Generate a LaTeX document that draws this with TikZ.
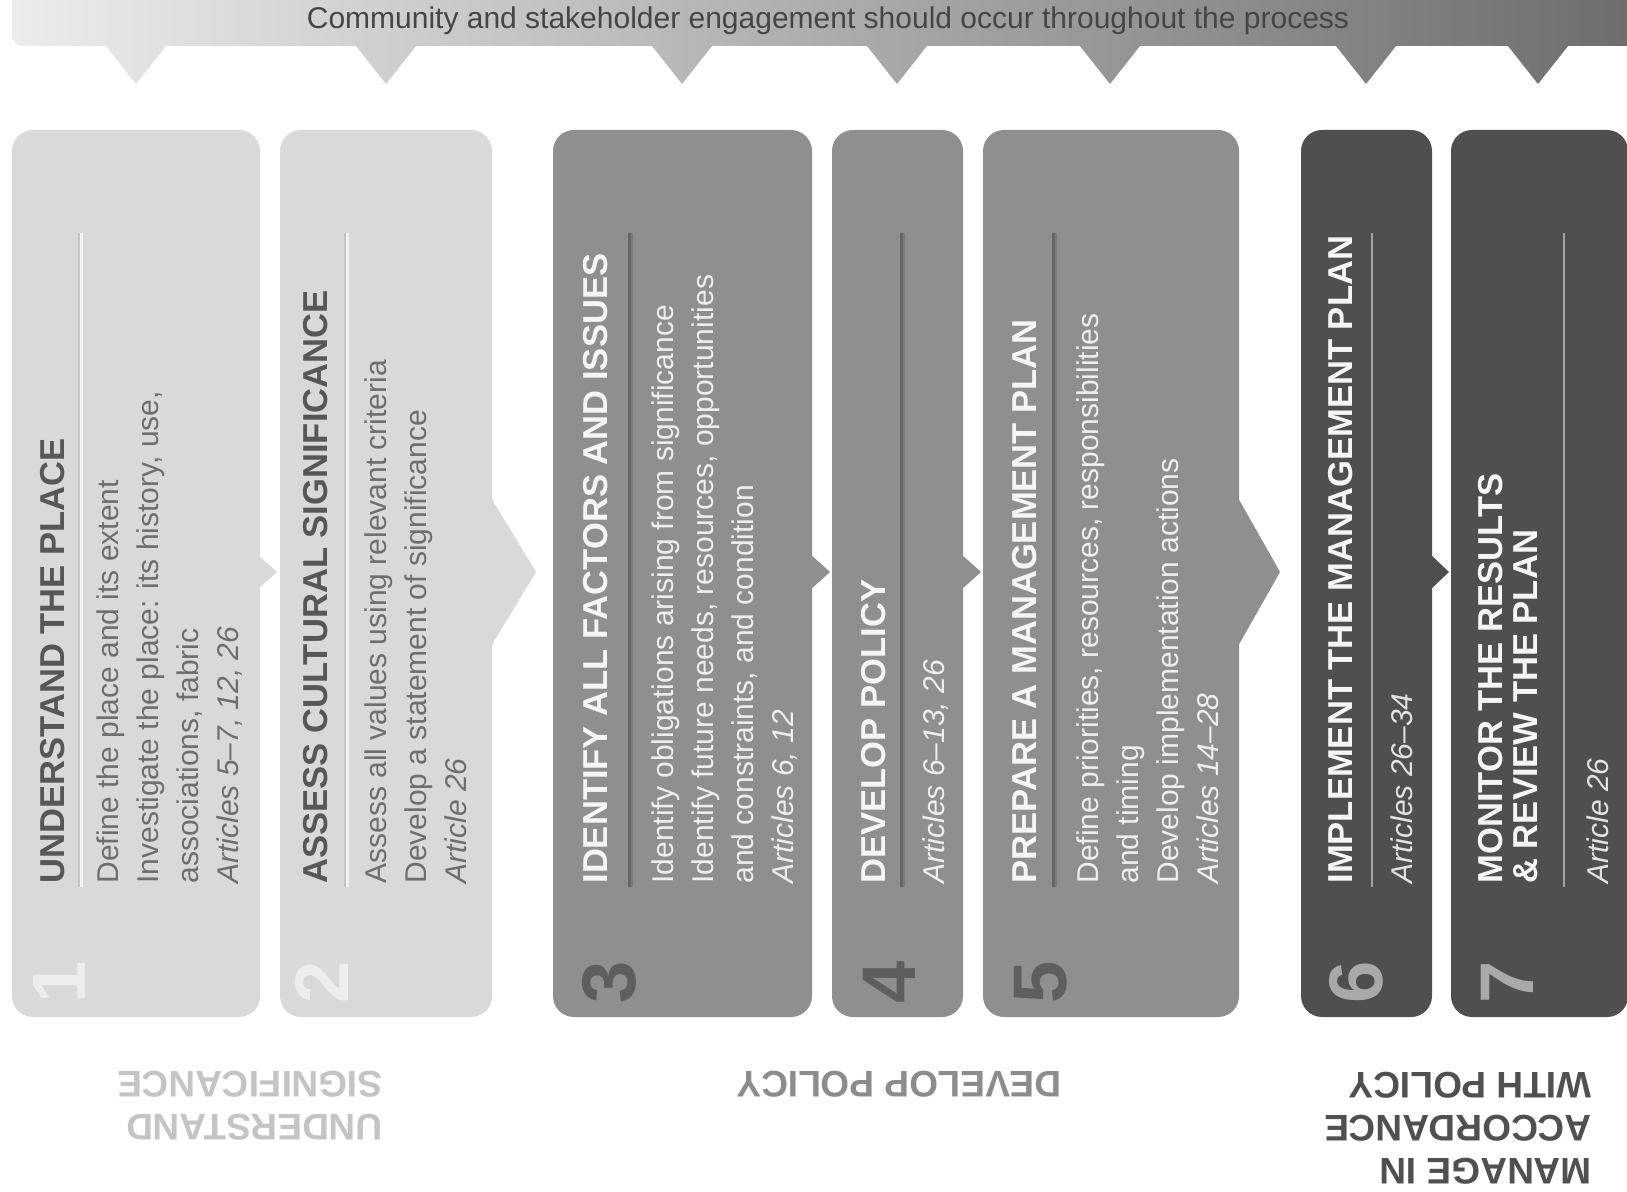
\documentclass[tikz,border=0pt]{standalone}
\usepackage{fontspec}
\setmainfont{Liberation Sans}

% type sizes (1 unit of the picture = 0.5pt)
\newcommand\stgtitlefont{\bfseries\fontsize{17.3}{17.5}\selectfont}
\newcommand\stgbodyfont{\fontsize{15}{20}\selectfont}
\newcommand\stgnumfont{\bfseries\fontsize{38}{38}\selectfont}
\newcommand\stgphasefont{\bfseries\fontsize{18.5}{21.5}\selectfont}
\newcommand\stgbannerfont{\fontsize{15}{18}\selectfont}

% palette
\definecolor{bnL}{HTML}{ECECEC}
\definecolor{bnM}{HTML}{C4C4C4}
\definecolor{bnR}{HTML}{6C6C6C}
\definecolor{bntext}{HTML}{454545}
\definecolor{lightbox}{HTML}{D9D9D9}
\definecolor{midbox}{HTML}{8F8F8F}
\definecolor{darkbox}{HTML}{4F4F4F}
\definecolor{lighttitle}{HTML}{575757}
\definecolor{lightbody}{HTML}{6E6E6E}
\definecolor{lightnum}{HTML}{EDEDED}
\definecolor{midtitle}{HTML}{F5F5F5}
\definecolor{midbody}{HTML}{EEEEEE}
\definecolor{midnum}{HTML}{5E5E5E}
\definecolor{darktitle}{HTML}{F5F5F5}
\definecolor{darkbody}{HTML}{E2E2E2}
\definecolor{darknum}{HTML}{A9A9A9}
\definecolor{lightdivA}{HTML}{C6C6C6}
\definecolor{lightdivB}{HTML}{F2F2F2}
\definecolor{middivA}{HTML}{666666}
\definecolor{middivB}{HTML}{7C7C7C}
\definecolor{darkdiv}{HTML}{A3A3A3}
\definecolor{phaseA}{HTML}{C4C4C4}
\definecolor{phaseB}{HTML}{8C8C8C}
\definecolor{phaseC}{HTML}{505050}

\begin{document}
\begin{tikzpicture}[x=0.5pt,y=-0.5pt,
  stagebox/.style={rounded corners=10.5pt},
  vtitle/.style={rotate=90,anchor=base west,inner sep=0pt,font=\stgtitlefont},
  vtitletwo/.style={rotate=90,anchor=north west,inner sep=0pt,align=left,font=\stgtitlefont},
  vbody/.style={rotate=90,anchor=north west,inner sep=0pt,align=left,font=\stgbodyfont},
  vnum/.style={rotate=90,anchor=base west,inner sep=0pt,font=\stgnumfont},
  phase/.style={rotate=180,anchor=north west,inner sep=0pt,align=left,font=\stgphasefont},
  lightdiv/.style={line width=1.25pt},
  middiv/.style={line width=1.5pt},
]
\useasboundingbox (0,0) rectangle (1627,1192);
\fill[white] (0,0) rectangle (1627,1192);

% ---- engagement banner with its pointers ----
\shade[left color=bnL, middle color=bnM, right color=bnR]
  (1650,-12) -- (12,-12) -- (12,34) .. controls (12,42) and (16,46) .. (24,46)
  -- (106,46) -- (136,84) -- (166,46)
  -- (356,46) -- (386,84) -- (416,46)
  -- (652,46) -- (682,84) -- (712,46)
  -- (867,46) -- (897,84) -- (927,46)
  -- (1080,46) -- (1110,84) -- (1140,46)
  -- (1336,46) -- (1366,84) -- (1396,46)
  -- (1508,46) -- (1538,84) -- (1568,46)
  -- (1650,46) -- cycle;
\node[font=\stgbannerfont, text=bntext, anchor=base] (banner) at (828,29)
  {Community and stakeholder engagement should occur throughout the process};

% ---- stage panels ----
\fill[lightbox, stagebox] (12,130) rectangle (260,1017);
\fill[lightbox] (258,555) -- (277,572) -- (258,589) -- cycle;
\fill[lightbox, stagebox] (280,130) rectangle (492,1017);
\fill[lightbox] (490,496) -- (536,572) -- (490,648) -- cycle;
\fill[midbox, stagebox] (553,130) rectangle (812,1017);
\fill[midbox] (810,554) -- (830,572) -- (810,590) -- cycle;
\fill[midbox, stagebox] (832,130) rectangle (963,1017);
\fill[midbox] (961,554) -- (981,572) -- (961,590) -- cycle;
\fill[midbox, stagebox] (983,130) rectangle (1239,1017);
\fill[midbox] (1237,496) -- (1280,572) -- (1237,648) -- cycle;
\fill[darkbox, stagebox] (1301,130) rectangle (1432,1017);
\fill[darkbox] (1430,554) -- (1449,572) -- (1430,590) -- cycle;
\fill[darkbox, stagebox] (1451,130) rectangle (1628,1017);

% ---- dividers between heading and notes ----
\foreach \dx in {80,346}{
  \draw[lightdivA, lightdiv] (\dx-1.2,233) -- (\dx-1.2,887);
  \draw[lightdivB, lightdiv] (\dx+1.3,233) -- (\dx+1.3,887);
}
\foreach \dx in {630,902,1054}{
  \draw[middivA, middiv] (\dx-1,233) -- (\dx-1,887);
  \draw[middivB, lightdiv] (\dx+2,233) -- (\dx+2,887);
}
\foreach \dx in {1372,1564}{
  \draw[darkdiv, lightdiv] (\dx,233) -- (\dx,887);
}

% ---- stage 1 ----
\node[vtitle, text=lighttitle] (t1) at (64,884) {UNDERSTAND THE PLACE};
\node[vbody, text=lightbody] (b1) at (96,884)
  {Define the place and its extent\\
   Investigate the place: its history, use,\\
   associations, fabric\\
   \textit{Articles 5–7, 12, 26}};
\node[vnum, text=lightnum] (n1) at (85,1004) {1};

% ---- stage 2 ----
\node[vtitle, text=lighttitle] (t2) at (327,884) {ASSESS CULTURAL SIGNIFICANCE};
\node[vbody, text=lightbody] (b2) at (364,884)
  {Assess all values using relevant criteria\\
   Develop a statement of significance\\
   \textit{Article 26}};
\node[vnum, text=lightnum] (n2) at (348,1004) {2};

% ---- stage 3 ----
\node[vtitle, text=midtitle] (t3) at (607,884) {IDENTIFY ALL FACTORS AND ISSUES};
\node[vbody, text=midbody] (b3) at (651,884)
  {Identify obligations arising from significance\\
   Identify future needs, resources, opportunities\\
   and constraints, and condition\\
   \textit{Articles 6, 12}};
\node[vnum, text=midnum] (n3) at (635,1004) {3};

% ---- stage 4 ----
\node[vtitle, text=midtitle] (t4) at (885,884) {DEVELOP POLICY};
\node[vbody, text=midbody] (b4) at (922,884) {\textit{Articles 6–13, 26}};
\node[vnum, text=midnum] (n4) at (915,1004) {4};

% ---- stage 5 ----
\node[vtitle, text=midtitle] (t5) at (1036,884) {PREPARE A MANAGEMENT PLAN};
\node[vbody, text=midbody] (b5) at (1076,884)
  {Define priorities, resources, responsibilities\\
   and timing\\
   Develop implementation actions\\
   \textit{Articles 14–28}};
\node[vnum, text=midnum] (n5) at (1066,1004) {5};

% ---- stage 6 ----
\node[vtitle, text=darktitle] (t6) at (1352,884) {IMPLEMENT THE MANAGEMENT PLAN};
\node[vbody, text=darkbody] (b6) at (1390,884) {\textit{Articles 26–34}};
\node[vnum, text=darknum] (n6) at (1382,1004) {6};

% ---- stage 7 ----
\node[vtitletwo, text=darktitle] (t7) at (1478,884)
  {MONITOR THE RESULTS\\ \& REVIEW THE PLAN};
\node[vbody, text=darkbody] (b7) at (1586,884) {\textit{Article 26}};
\node[vnum, text=darknum] (n7) at (1533,1004) {7};

% ---- phase captions ----
\node[phase, text=phaseA] (p1) at (383,1141) {UNDERSTAND\\SIGNIFICANCE};
\node[phase, text=phaseB] (p2) at (1062,1098) {DEVELOP POLICY};
\node[phase, text=phaseC] (p3) at (1592,1185) {MANAGE IN\\ACCORDANCE\\WITH POLICY};
\end{tikzpicture}
\end{document}
